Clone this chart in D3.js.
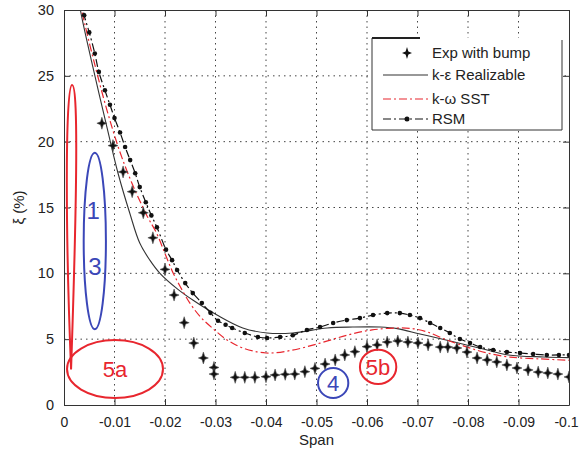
<!DOCTYPE html>
<html>
<head>
<meta charset="utf-8">
<script src="https://cdn.jsdelivr.net/npm/d3@7"></script>
<style>
  body { margin: 0; background: #fff; }
  svg { font-family: "Liberation Sans", Arial, sans-serif; }
</style>
</head>
<body>
<div id="chart"></div>
<script>
// ---- data ----
const xTicks = [0, -0.01, -0.02, -0.03, -0.04, -0.05, -0.06, -0.07, -0.08, -0.09, -0.1];
const yTicks = [0, 5, 10, 15, 20, 25, 30];

const expSpan = [-0.0075, -0.0097, -0.0117, -0.0135, -0.0157, -0.0176, -0.0200, -0.0218, -0.0238, -0.0257,
  -0.0276, -0.0297, -0.0297, -0.0339, -0.0358, -0.0378, -0.0400, -0.0418, -0.0438, -0.0457,
  -0.0477, -0.0497, -0.0517, -0.0537, -0.0556, -0.0576, -0.0600, -0.0620, -0.0640, -0.0661,
  -0.0681, -0.0701, -0.0721, -0.0745, -0.0760, -0.0778, -0.0798, -0.0818, -0.0838, -0.0857,
  -0.0877, -0.0897, -0.0919, -0.0939, -0.0958, -0.0978, -0.1000];
const expXi = [21.4, 19.7, 17.7, 16.2, 14.6, 12.7, 10.3, 8.35, 6.25, 4.7,
  3.57, 2.85, 2.35, 2.1, 2.1, 2.1, 2.15, 2.28, 2.33, 2.35,
  2.53, 2.78, 3.11, 3.42, 3.8, 4.05, 4.43, 4.56, 4.78, 4.86,
  4.78, 4.71, 4.56, 4.4, 4.4, 4.33, 4.02, 3.57, 3.42, 3.27,
  3.04, 2.81, 2.66, 2.5, 2.43, 2.35, 2.13];

const keSpan = [-0.0028, -0.0035, -0.0057, -0.0085, -0.0107, -0.0130, -0.0150, -0.0170, -0.0190, -0.0225,
  -0.0255, -0.0303, -0.0354, -0.0402, -0.0453, -0.0521, -0.0572, -0.0626, -0.0660, -0.0705,
  -0.0750, -0.0797, -0.0836, -0.0880, -0.0950, -0.1000];
const keXi = [31, 29.5, 25.7, 21.1, 17.6, 14.6, 12.3, 11.0, 10.0, 8.8,
  7.97, 6.83, 5.85, 5.47, 5.47, 5.85, 5.92, 5.92, 5.8, 5.39,
  5.0, 4.56, 4.2, 3.8, 3.65, 3.6];

const sstSpan = [-0.0030, -0.0036, -0.0060, -0.0085, -0.0110, -0.0135, -0.0164, -0.0184, -0.0200, -0.0214,
  -0.0230, -0.0250, -0.0270, -0.0295, -0.0323, -0.0354, -0.0400, -0.0450, -0.0507, -0.0560,
  -0.0610, -0.0660, -0.0690, -0.0719, -0.0758, -0.0798, -0.0838, -0.0883, -0.0943, -0.1000];
const sstXi = [31, 29.8, 26.0, 22.4, 19.3, 16.8, 14.4, 13.0, 11.5, 10.2,
  9.0, 7.7, 6.7, 5.8, 4.94, 4.33, 3.95, 4.15, 4.7, 5.3,
  5.7, 5.85, 5.8, 5.55, 4.94, 4.4, 3.95, 3.64, 3.5, 3.4];

const rsmSpan = [-0.0033, -0.0040, -0.0050, -0.0061, -0.0069, -0.0081, -0.0091, -0.0100, -0.0111, -0.0121,
  -0.0131, -0.0141, -0.0150, -0.0162, -0.0173, -0.0184, -0.0202, -0.0214, -0.0224, -0.0240,
  -0.0255, -0.0273, -0.0290, -0.0305, -0.0320, -0.0333, -0.0358, -0.0384, -0.0402, -0.0428,
  -0.0453, -0.0481, -0.0507, -0.0533, -0.0560, -0.0586, -0.0612, -0.0640, -0.0665, -0.0685,
  -0.0705, -0.0725, -0.0745, -0.0764, -0.0784, -0.0804, -0.0824, -0.0850, -0.0877, -0.0903,
  -0.0929, -0.0956, -0.0980, -0.1000];
const rsmXi = [31, 29.6, 28.3, 26.7, 25.3, 23.9, 22.8, 21.8, 20.7, 19.6,
  18.6, 17.6, 16.55, 15.4, 14.4, 13.5, 11.8, 11.0, 10.25, 9.26,
  8.5, 7.75, 7.0, 6.4, 6.1, 5.85, 5.47, 5.16, 5.09, 5.16,
  5.3, 5.7, 5.92, 6.23, 6.45, 6.6, 6.83, 6.98, 6.98, 6.83,
  6.6, 6.23, 5.85, 5.47, 5.01, 4.71, 4.4, 4.18, 4.02, 3.95,
  3.87, 3.8, 3.8, 3.8];

const legendLabels = ["Exp with bump", "k-\u03b5 Realizable", "k-\u03c9 SST", "RSM"];

// ---- layout ----
const width = 580, height = 450;
const margin = {top: 10, right: 11, bottom: 45, left: 64};
const red = "#e8262e", blue = "#3b47b8";

const svg = d3.select("#chart").append("svg")
    .attr("width", width)
    .attr("height", height);

const x = d3.scaleLinear().domain([0, -0.1]).range([margin.left, width - margin.right]);
const y = d3.scaleLinear().domain([0, 30]).range([height - margin.bottom, margin.top]);

const zip = (xs, ys) => xs.map((d, i) => [d, ys[i]]);

svg.append("clipPath").attr("id", "plot")
  .append("rect")
    .attr("x", x(0)).attr("y", y(30))
    .attr("width", x(-0.1) - x(0)).attr("height", y(0) - y(30));

// grid
const grid = svg.append("g").attr("stroke", "#444").attr("stroke-dasharray", "1.5,4").attr("stroke-width", 1);
grid.selectAll(".gx").data(xTicks.slice(1, -1)).join("line")
    .attr("x1", d => x(d)).attr("x2", d => x(d))
    .attr("y1", y(30)).attr("y2", y(0));
grid.selectAll(".gy").data(yTicks.slice(1, -1)).join("line")
    .attr("y1", d => y(d)).attr("y2", d => y(d))
    .attr("x1", x(0)).attr("x2", x(-0.1));

// axes (inward ticks like matlab)
const fmt = d => d === 0 ? "0" : String(+d.toFixed(2));
svg.append("g")
    .attr("transform", `translate(0,${y(0)})`)
    .call(d3.axisBottom(x).tickValues(xTicks).tickFormat(fmt).tickSizeInner(-6).tickSizeOuter(0).tickPadding(12))
    .call(g => g.selectAll("text").attr("font-size", 14).attr("fill", "#222"))
    .call(g => g.selectAll(".tick").filter(d => d === -0.1).select("text").attr("dx", -3));
svg.append("g")
    .attr("transform", `translate(0,${y(30)})`)
    .call(d3.axisTop(x).tickValues(xTicks).tickFormat("").tickSizeInner(-6).tickSizeOuter(0));
svg.append("g")
    .attr("transform", `translate(${x(0)},0)`)
    .call(d3.axisLeft(y).tickValues(yTicks).tickSizeInner(-6).tickSizeOuter(0).tickPadding(10))
    .call(g => g.selectAll("text").attr("font-size", 14.5).attr("fill", "#222"));
svg.append("g")
    .attr("transform", `translate(${x(-0.1)},0)`)
    .call(d3.axisRight(y).tickValues(yTicks).tickFormat("").tickSizeInner(-6).tickSizeOuter(0));
svg.selectAll(".domain").attr("stroke", "#333");
svg.selectAll(".tick line").attr("stroke", "#333");

svg.append("text")
    .attr("x", (x(0) + x(-0.1)) / 2).attr("y", 445)
    .attr("text-anchor", "middle").attr("font-size", 15).attr("fill", "#222")
    .text("Span");
svg.append("text")
    .attr("transform", `translate(24,${y(15)}) rotate(-90)`)
    .attr("text-anchor", "middle").attr("font-size", 15).attr("fill", "#222")
    .text("\u03be (%)");

// series
const line = d3.line().x(d => x(d[0])).y(d => y(d[1])).curve(d3.curveCatmullRom.alpha(0.5));
const plot = svg.append("g").attr("clip-path", "url(#plot)");

plot.append("path").datum(zip(keSpan, keXi))
    .attr("d", line).attr("fill", "none").attr("stroke", "#333").attr("stroke-width", 1.1);
plot.append("path").datum(zip(sstSpan, sstXi))
    .attr("d", line).attr("fill", "none").attr("stroke", red).attr("stroke-width", 1.2)
    .attr("stroke-dasharray", "8,3,2,3");
plot.append("path").datum(zip(rsmSpan, rsmXi))
    .attr("d", line).attr("fill", "none").attr("stroke", "#111").attr("stroke-width", 1.2)
    .attr("stroke-dasharray", "8,3,2,3");
plot.selectAll(".rsm").data(zip(rsmSpan, rsmXi)).join("circle")
    .attr("cx", d => x(d[0])).attr("cy", d => y(d[1])).attr("r", 2.3).attr("fill", "#111");

const star = "M0,-6L1.4,-1.4L5,0L1.4,1.4L0,6L-1.4,1.4L-5,0L-1.4,-1.4Z";
plot.selectAll(".exp").data(zip(expSpan, expXi)).join("path")
    .attr("transform", d => `translate(${x(d[0])},${y(d[1])})`)
    .attr("d", star).attr("fill", "#111").attr("stroke", "#555").attr("stroke-width", 0.6);

// legend
const lg = svg.append("g").attr("transform", "translate(372,38)");
lg.append("rect").attr("width", 190).attr("height", 92).attr("fill", "#fff");
lg.append("path").attr("d", "M0,0V92H190V2").attr("fill", "none").attr("stroke", "#333");
lg.append("line").attr("x1", 0).attr("x2", 48).attr("y1", 0).attr("y2", 0).attr("stroke", "#222").attr("stroke-width", 2);
const rows = [15, 37, 61, 81];
lg.selectAll(".lt").data(legendLabels).join("text")
    .attr("x", 60).attr("y", (d, i) => rows[i] + 5)
    .attr("font-size", 15).attr("fill", "#222").text(d => d);
lg.append("path").attr("transform", `translate(35,${rows[0]})`).attr("d", star).attr("fill", "#111");
lg.append("line").attr("x1", 11).attr("x2", 56).attr("y1", rows[1]).attr("y2", rows[1]).attr("stroke", "#333").attr("stroke-width", 1.1);
lg.append("line").attr("x1", 11).attr("x2", 56).attr("y1", rows[2]).attr("y2", rows[2]).attr("stroke", red).attr("stroke-width", 1.2).attr("stroke-dasharray", "8,3,2,3");
lg.append("line").attr("x1", 11).attr("x2", 56).attr("y1", rows[3]).attr("y2", rows[3]).attr("stroke", "#111").attr("stroke-width", 1.2).attr("stroke-dasharray", "8,3,2,3");
lg.append("circle").attr("cx", 35).attr("cy", rows[3]).attr("r", 2.5).attr("fill", "#111");

// hand drawn annotations (in data units)
const ann = svg.append("g").attr("fill", "none").attr("stroke-width", 2);
const loop = d3.path();
loop.moveTo(x(-0.0014), y(2.7));
loop.bezierCurveTo(x(-0.0002), y(14), x(-0.0003), y(24.3), x(-0.0016), y(24.3));
loop.bezierCurveTo(x(-0.0030), y(24.3), x(-0.0024), y(14), x(-0.0014), y(2.7));
ann.append("path").attr("d", loop.toString()).attr("stroke", red);

const ellipses = [
  {cx: -0.0101, cy: 2.73, rx: 0.0095, ry: 2.2, c: red},
  {cx: -0.0061, cy: 12.45, rx: 0.0022, ry: 6.7, c: blue},
  {cx: -0.0533, cy: 1.67, rx: 0.003, ry: 1.14, c: blue},
  {cx: -0.0622, cy: 2.89, rx: 0.0036, ry: 1.3, c: red}
];
ann.selectAll("ellipse").data(ellipses).join("ellipse")
    .attr("cx", d => x(d.cx)).attr("cy", d => y(d.cy))
    .attr("rx", d => Math.abs(x(-d.rx) - x(0))).attr("ry", d => Math.abs(y(0) - y(d.ry)))
    .attr("stroke", d => d.c);

const notes = [
  {t: "1", x: -0.0058, y: 14.8, c: blue, s: 24},
  {t: "3", x: -0.0061, y: 10.5, c: blue, s: 24},
  {t: "5a", x: -0.0101, y: 2.7, c: red, s: 22},
  {t: "4", x: -0.0533, y: 1.67, c: blue, s: 22},
  {t: "5b", x: -0.0622, y: 2.89, c: red, s: 22}
];
svg.selectAll(".note").data(notes).join("text")
    .attr("x", d => x(d.x)).attr("y", d => y(d.y))
    .attr("dy", "0.36em").attr("text-anchor", "middle")
    .attr("font-size", d => d.s).attr("fill", d => d.c)
    .text(d => d.t);
</script>
</body>
</html>
